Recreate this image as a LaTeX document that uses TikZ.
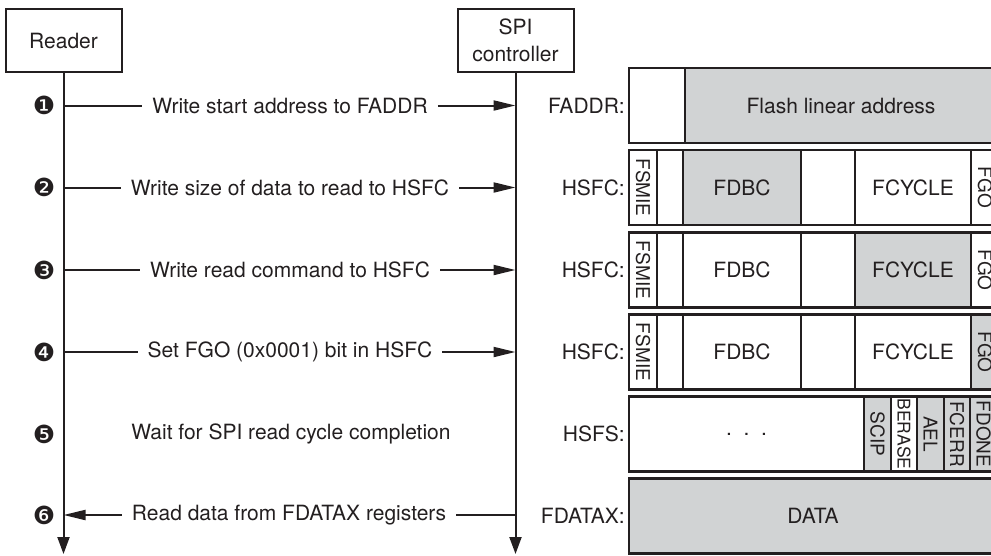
\documentclass[tikz,border=0pt]{standalone}
\usepackage{fontspec}
\setmainfont{TeX Gyre Heros}
\newfontfamily\dingfont{DejaVu Sans}
\usetikzlibrary{arrows.meta,positioning,calc}
\definecolor{ink}{RGB}{35,31,32}
\definecolor{regfill}{RGB}{209,211,212}
\newcommand{\vbit}[2][19]{\rotatebox{-90}{\fontsize{#1}{#1}\selectfont #2}}
\tikzset{
  % sequence part
  actor/.style={draw=ink, line width=2pt, fill=white, align=center,
    minimum width=116pt, minimum height=63pt, inner sep=2pt},
  life/.style={draw=ink, line width=2pt, -{Triangle[length=17pt,width=12pt]}},
  msg/.style={inner xsep=10pt, inner ysep=0pt},
  call/.style={draw=ink, line width=2pt, -{Triangle[length=22pt,width=10pt]}},
  plain/.style={draw=ink, line width=2pt},
  num/.style={font={\dingfont\fontsize{25}{25}\selectfont}},
  % registers
  reglbl/.style={anchor=east, inner sep=1pt},
  regoff/.style={draw=ink, line width=2.4pt, fill=white, anchor=west,
    outer sep=0pt, inner sep=0pt, minimum height=75pt},
  regon/.style={regoff, fill=regfill}
}
\begin{document}
\begin{tikzpicture}[x=1pt, y=-1pt, font=\fontsize{21}{27}\selectfont, text=ink]
  \clip (0,0) rectangle (991,555);
  % lifelines
  \node[actor] (reader) at (63.5,40.5) {Reader};
  \node[actor] (spi) at (515.5,40.5) {SPI\\controller};
  \coordinate (bottom) at (0,554);
  \draw[life] (reader.south) -- (reader.south |- bottom);
  \draw[life] (spi.south) -- (spi.south |- bottom);
  % steps
  \node[num] (n1) at (44,105.5) {❶};
  \node[num] (n2) at (44,187.5) {❷};
  \node[num] (n3) at (44,270) {❸};
  \node[num] (n4) at (44,352) {❹};
  \node[num] (n5) at (44,434) {❺};
  \node[num] (n6) at (44,515) {❻};
  \node[msg] (m1) at (290,105.5) {Write start address to FADDR};
  \draw[plain] (m1.west -| reader) -- (m1.west);
  \draw[call] (m1.east) -- (m1.east -| spi);
  \node[msg] (m2) at (290,187.5) {Write size of data to read to HSFC};
  \draw[plain] (m2.west -| reader) -- (m2.west);
  \draw[call] (m2.east) -- (m2.east -| spi);
  \node[msg] (m3) at (290,270) {Write read command to HSFC};
  \draw[plain] (m3.west -| reader) -- (m3.west);
  \draw[call] (m3.east) -- (m3.east -| spi);
  \node[msg] (m4) at (290,352) {Set FGO (0x0001) bit in HSFC};
  \draw[plain] (m4.west -| reader) -- (m4.west);
  \draw[call] (m4.east) -- (m4.east -| spi);
  \node[msg] (m5) at (291,434) {Wait for SPI read cycle completion};
  \node[msg] (m6) at (289,515) {Read data from FDATAX registers};
  \draw[call] (m6.west) -- (m6.west -| reader);
  \draw[plain] (m6.east -| spi) -- (m6.east);
  % FADDR
  \node[reglbl] (l1) at (626,105.5) {FADDR:};
  \node[regoff, minimum width=56pt] (a0) at (629,105.5) {};
  \node[regon, minimum width=312pt, right=0pt of a0] (a1) {Flash linear address};
  % HSFC, size
  \node[reglbl] (l2) at (626,187.5) {HSFC:};
  \node[regoff, minimum width=28pt] (b0) at (629,187.5) {\vbit{FSMIE}};
  \node[regoff, minimum width=26pt, right=0pt of b0] (b1) {};
  \node[regon, minimum width=118pt, right=0pt of b1] (b2) {FDBC};
  \node[regoff, minimum width=54pt, right=0pt of b2] (b3) {};
  \node[regoff, minimum width=116pt, right=0pt of b3] (b4) {FCYCLE};
  \node[regoff, minimum width=28pt, right=0pt of b4] (b5) {\vbit{FGO}};
  % HSFC, command
  \node[reglbl] (l3) at (626,270) {HSFC:};
  \node[regoff, minimum width=28pt] (c0) at (629,270) {\vbit{FSMIE}};
  \node[regoff, minimum width=26pt, right=0pt of c0] (c1) {};
  \node[regoff, minimum width=118pt, right=0pt of c1] (c2) {FDBC};
  \node[regoff, minimum width=54pt, right=0pt of c2] (c3) {};
  \node[regon, minimum width=116pt, right=0pt of c3] (c4) {FCYCLE};
  \node[regoff, minimum width=28pt, right=0pt of c4] (c5) {\vbit{FGO}};
  % HSFC, go
  \node[reglbl] (l4) at (626,352) {HSFC:};
  \node[regoff, minimum width=28pt] (d0) at (629,352) {\vbit{FSMIE}};
  \node[regoff, minimum width=26pt, right=0pt of d0] (d1) {};
  \node[regoff, minimum width=118pt, right=0pt of d1] (d2) {FDBC};
  \node[regoff, minimum width=54pt, right=0pt of d2] (d3) {};
  \node[regoff, minimum width=116pt, right=0pt of d3] (d4) {FCYCLE};
  \node[regon, minimum width=28pt, right=0pt of d4] (d5) {\vbit{FGO}};
  % HSFS
  \node[reglbl] (l5) at (626,434) {HSFS:};
  \node[regoff, minimum width=235pt] (e0) at (629,434) {.\ \ .\ \ .};
  \node[regon, minimum width=27pt, right=0pt of e0] (e1) {\vbit{SCIP}};
  \node[regoff, minimum width=26pt, right=0pt of e1] (e2) {\vbit[17.5]{BERASE}};
  \node[regon, minimum width=27pt, right=0pt of e2] (e3) {\vbit{AEL}};
  \node[regon, minimum width=26pt, right=0pt of e3] (e4) {\vbit{FCERR}};
  \node[regon, minimum width=27pt, right=0pt of e4] (e5) {\vbit{FDONE}};
  % FDATAX
  \node[reglbl] (l6) at (626,516) {FDATAX:};
  \node[regon, minimum width=368pt] (f0) at (629,516) {DATA};
\end{tikzpicture}
\end{document}
